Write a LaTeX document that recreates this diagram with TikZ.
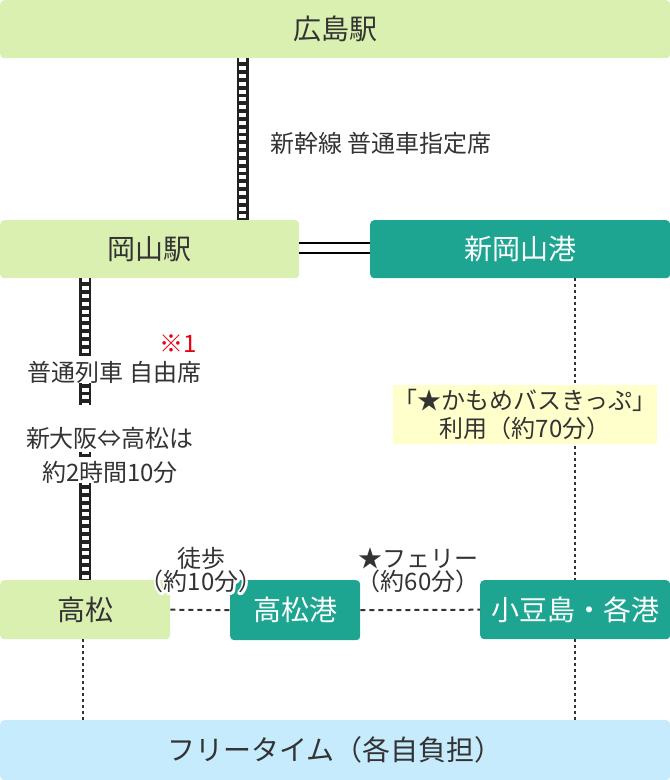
\documentclass[tikz,border=0pt]{standalone}
\usepackage{fontspec}
\setmainfont{Noto Sans CJK JP}
\usetikzlibrary{calc}
\definecolor{lgreen}{HTML}{DAF0B1}
\definecolor{teal2}{HTML}{1EA592}
\definecolor{pyellow}{HTML}{FFFFCC}
\definecolor{lblue}{HTML}{C6EBFC}
\definecolor{ink}{HTML}{333333}
\definecolor{railc}{HTML}{222222}
\definecolor{redm}{HTML}{E60012}
\newcommand{\halostroke}{\special{pdf:literal direct 1 Tr 4.4 w 1 j}}
\newcommand{\haloend}{\special{pdf:literal direct 0 Tr}}
\begin{document}
\begin{tikzpicture}[x=1pt,y=-1pt,
  box/.style={rounded corners=4pt, inner sep=0pt, anchor=north west,
    font=\fontsize{28}{30}\selectfont},
  gbox/.style={box, fill=lgreen, text=ink},
  tbox/.style={box, fill=teal2, text=white},
  bbox/.style={box, fill=lblue, text=ink},
  lbl/.style={font=\fontsize{24}{23}\selectfont, text=ink, align=center, inner sep=0pt},
  rail/.style={line width=12pt, draw=railc,
    postaction={draw=white, line width=7pt, dash pattern=on 4pt off 3.8pt}},
  dotline/.style={line width=2pt, draw=ink, dash pattern=on 3pt off 3pt},
  dashline/.style={line width=2pt, draw=ink, dash pattern=on 5pt off 4pt},
  dbl/.style={line width=2pt, draw=black, double=white, double distance=8pt}
]
\useasboundingbox (0,0) rectangle (670,780);

% boxes
\node[gbox, minimum width=670pt, minimum height=58pt] (hiro) at (0,0) {広島駅};
\node[gbox, minimum width=299pt, minimum height=58pt] (okay) at (0,220) {岡山駅};
\node[tbox, minimum width=300pt, minimum height=58pt] (shin) at (370,220) {新岡山港};
\node[gbox, minimum width=170pt, minimum height=59pt] (taka) at (0,580) {高松};
\node[tbox, minimum width=130pt, minimum height=60pt] (takap) at (230,580) {高松港};
\node[tbox, minimum width=190pt, minimum height=59pt] (shodo) at (480,580) {小豆島・各港};
\node[bbox, minimum width=670pt, minimum height=60pt] (free) at (0,720) {フリータイム（各自負担）};

% reference x positions
\coordinate (r1) at (242.5,0);
\coordinate (r2) at (85,0);
\coordinate (r3) at (575,0);
\coordinate (r4) at (83,0);

% connectors
\draw[rail] (hiro.south -| r1) -- (okay.north -| r1);
\draw[rail] (okay.south -| r2) -- (taka.north -| r2);
\draw[dbl] ($(okay.east)+(0,-1.3)$) -- ($(shin.west)+(0,-1.3)$);
\draw[dotline] (shin.south -| r3) -- (shodo.north -| r3);
\draw[dotline] (shodo.south -| r3) -- (free.north -| r3);
\draw[dotline] (taka.south -| r4) -- (free.north -| r4);
\draw[dashline] (taka.east) -- (takap.west);
\draw[dashline] (takap.east) -- (shodo.west);

% labels
\node[lbl, anchor=west] (shinkansen) at (270,143) {新幹線 普通車指定席};
\node[lbl, text=redm] (note1) at (178,344) {※1};
\node[lbl, fill=white, anchor=base, text height=25pt, text depth=2pt] (futsu) at (114.5,381) {普通列車 自由席};
\node[lbl, fill=white, anchor=base, text height=42pt, text depth=5pt] (shinosaka) at (110,447) {新大阪⇔高松は};
\node[lbl, fill=white, anchor=base, text height=24pt, text depth=2pt] (jikan) at (110,481) {約2時間10分};

\node[lbl, font=\fontsize{24}{28}\selectfont, fill=pyellow, anchor=north west,
  minimum width=264pt, minimum height=59pt] (kamome) at (393,385)
  {「★かもめバスきっぷ」\\利用（約70分）};

% halo labels (white outline drawn under the text)
\node[lbl, text=white] (tohohalo) at (201,570.5) {\halostroke 徒歩\\（約10分）\haloend};
\node[lbl] (toho) at (201,570.5) {徒歩\\（約10分）};
\node[lbl, text=white] (ferryhalo) at (418,570.5) {\halostroke ★フェリー\\（約60分）\haloend};
\node[lbl] (ferry) at (418,570.5) {★フェリー\\（約60分）};
\end{tikzpicture}
\end{document}
